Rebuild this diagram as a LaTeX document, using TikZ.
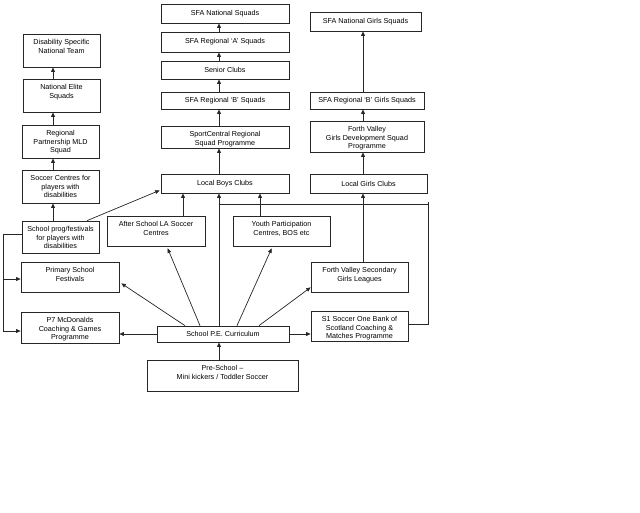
\documentclass[tikz,border=0pt]{standalone}
\usepackage{fontspec}
\setmainfont{Liberation Sans}
\usetikzlibrary{fit,arrows.meta,calc}
\tikzset{
  box/.style={draw=black!85, line width=0.7pt, inner sep=0pt, fit={#1}},
  lbl/.style={font=\fontsize{7.2}{8.6}\selectfont, align=center, inner sep=0pt, anchor=north, yshift=-5.6pt},
  clbl/.style={font=\fontsize{7.2}{8.6}\selectfont, align=center, inner sep=0pt, anchor=center},
  arr/.style={draw=black!85, line width=0.7pt, -{Triangle[length=4.5pt,width=3.8pt]}},
  ln/.style={draw=black!85, line width=0.7pt}
}
% centred text
\newcommand{\bx}[6]{\node[box={(#2,#3)(#4,#5)}, label={[clbl]center:{#6}}] (#1) {};}
% top-aligned text
\newcommand{\bxt}[6]{\node[box={(#2,#3)(#4,#5)}, label={[lbl]north:{#6}}] (#1) {};}
\begin{document}
\begin{tikzpicture}[x=1pt,y=-1pt]
\useasboundingbox[fill=white] (0,0) rectangle (640,512);

% left column
\bxt{dis}{23}{34}{100}{67}{Disability Specific\\National Team}
\bxt{elite}{23}{79}{100}{112}{National Elite\\Squads}
\bxt{rpm}{22}{125}{99}{158}{Regional\\Partnership MLD\\Squad}
\bxt{sc}{22}{170}{99}{203}{Soccer Centres for\\players with\\disabilities}
\bxt{sp}{22}{221}{99}{253}{School prog/festivals\\for players with\\disabilities}
\bxt{pri}{21}{262}{119}{292}{Primary School\\Festivals}
\bxt{p7}{21}{312}{119}{343}{P7 McDonalds\\Coaching \& Games\\Programme}

% centre column
\bx{nat}{161}{4}{289}{23}{SFA National Squads}
\bx{rega}{161}{32}{289}{52}{SFA Regional ‘A’ Squads}
\bx{sen}{161}{61}{289}{79}{Senior Clubs}
\bx{regb}{161}{92}{289}{109}{SFA Regional ‘B’ Squads}
\bxt{spc}{161}{126}{289}{148}{SportCentral Regional\\Squad Programme}
\bx{lbc}{161}{174}{289}{193}{Local Boys Clubs}
\bxt{after}{107}{216}{205}{246}{After School LA Soccer\\Centres}
\bxt{youth}{233}{216}{330}{246}{Youth Participation\\Centres, BOS etc}
\bx{pe}{157}{326}{289}{342}{School P.E. Curriculum}
\bxt{pre}{147}{360}{298}{391}{Pre-School –\\Mini kickers / Toddler Soccer}

% right column
\bx{ngs}{310}{12}{421}{31}{SFA National Girls Squads}
\bx{rbg}{310}{92}{424}{109}{SFA Regional ‘B’ Girls Squads}
\bxt{fvd}{310}{121}{424}{152}{Forth Valley\\Girls Development Squad\\Programme}
\bx{lgc}{310}{174}{427}{193}{Local Girls Clubs}
\bxt{fvs}{311}{262}{408}{292}{Forth Valley Secondary\\Girls Leagues}
\bxt{s1}{311}{311}{408}{341}{S1 Soccer One Bank of\\Scotland Coaching \&\\Matches Programme}

% left column arrows
\draw[arr] (53,0 |- elite.north) -- (53,0 |- dis.south);
\draw[arr] (53,0 |- rpm.north) -- (53,0 |- elite.south);
\draw[arr] (53,0 |- sc.north) -- (53,0 |- rpm.south);
\draw[arr] (53,0 |- sp.north) -- (53,0 |- sc.south);

% centre column arrows
\draw[arr] (219,0 |- rega.north) -- (219,0 |- nat.south);
\draw[arr] (219,0 |- sen.north) -- (219,0 |- rega.south);
\draw[arr] (219,0 |- regb.north) -- (219,0 |- sen.south);
\draw[arr] (219,0 |- spc.north) -- (219,0 |- regb.south);
\draw[arr] (219,0 |- lbc.north) -- (219,0 |- spc.south);
\draw[arr] (219,0 |- pe.north) -- (219,0 |- lbc.south);
\draw[arr] (219,0 |- pre.north) -- (219,0 |- pe.south);
\draw[arr] (183,0 |- after.north) -- (183,0 |- lbc.south);
\draw[arr] (260,0 |- youth.north) -- (260,0 |- lbc.south);
\draw[arr] (87,0 |- sp.north) -- ($(lbc.south west)+(-1,-3)$);

% right column arrows
\draw[arr] (363,0 |- rbg.north) -- (363,0 |- ngs.south);
\draw[arr] (363,0 |- fvd.north) -- (363,0 |- rbg.south);
\draw[arr] (363,0 |- lgc.north) -- (363,0 |- fvd.south);
\draw[arr] (363,0 |- fvs.north) -- (363,0 |- lgc.south);

% from School P.E. Curriculum
\draw[arr] (185,0 |- pe.north) -- ($(pri.south east)+(2,-9)$);
\draw[arr] (200,0 |- pe.north) -- ($(after.south west)+(61,2)$);
\draw[arr] (237,0 |- pe.north) -- ($(youth.south west)+(39,2)$);
\draw[arr] (259,0 |- pe.north) -- ($(fvs.south west)+(0,-5)$);
\draw[arr] (pe.west |- 0,334) -- (p7.east |- 0,334);
\draw[arr] (pe.east |- 0,334) -- (s1.west |- 0,334);

% S1 feedback line
\draw[ln] (s1.east |- 0,324) -- (428,324) -- (428,202) ;
\draw[ln] (219,204) -- (428,204);

% left distribution line
\draw[ln] (sp.west |- 0,234) -- (3,234) -- (3,331);
\draw[arr] (3,279) -- (pri.west |- 0,279);
\draw[arr] (3,331) -- (p7.west |- 0,331);
\end{tikzpicture}
\end{document}
